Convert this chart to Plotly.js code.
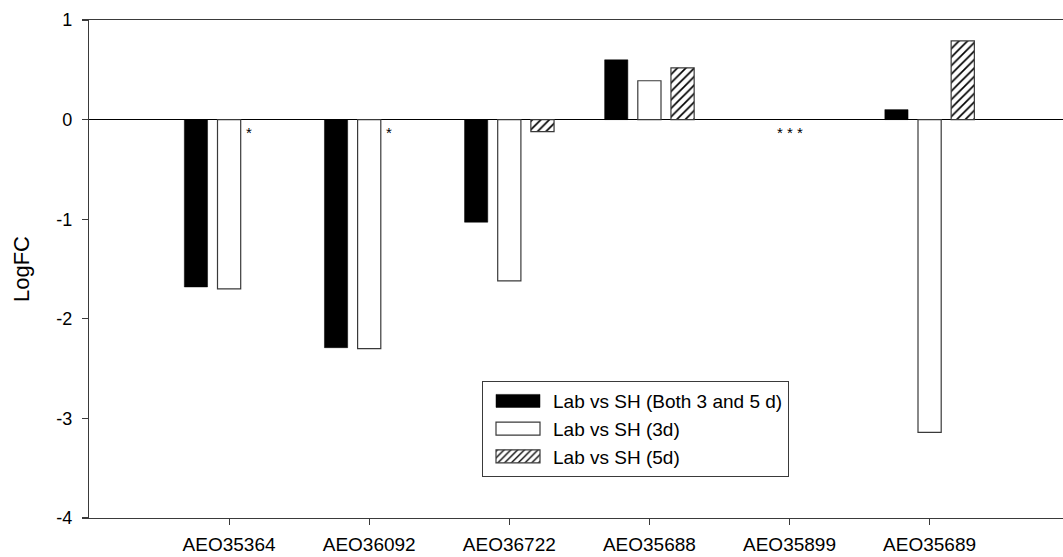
<!DOCTYPE html>
<html>
<head>
<meta charset="utf-8">
<script src="https://cdn.plot.ly/plotly-3.0.1.min.js"></script>
<style>
  html, body { margin: 0; padding: 0; background: #fff; overflow: hidden; }
  #frame { width: 1063px; height: 557px; overflow: hidden; }
  #chart { width: 1100px; height: 557px; }
</style>
</head>
<body>
<div id="frame"><div id="chart"></div></div>
<script>
// Genes on the x axis
const genes = ["AEO35364", "AEO36092", "AEO36722", "AEO35688", "AEO35899", "AEO35689"];

// Log fold change per comparison (null = not present)
const bothDays = [-1.68, -2.29, -1.03, 0.60, null, 0.10];
const day3     = [-1.70, -2.30, -1.62, 0.39, null, -3.14];
const day5     = [null, null, -0.12, 0.52, null, 0.79];

const seriesNames = ["Lab vs SH (Both 3 and 5 d)", "Lab vs SH (3d)", "Lab vs SH (5d)"];

// y axis ticks, written with a plain hyphen
const yTicks      = [-4, -3, -2, -1, 0, 1];
const yTickLabels = ["-4", "-3", "-2", "-1", "0", "1"];

// Significance markers: gene, label, horizontal offset in px
const starGenes  = ["AEO35364", "AEO36092", "AEO35899"];
const starLabels = ["*", "*", "* * *"];
const starShift  = [20, 20, 0];

const edge = "#3a3a3a";
const font = "Arial, 'Liberation Sans', sans-serif";

const traces = [
  {
    type: "bar", name: seriesNames[0], x: genes, y: bothDays,
    marker: { color: "#000000", line: { color: "#000000", width: 0.5 } }
  },
  {
    type: "bar", name: seriesNames[1], x: genes, y: day3,
    marker: { color: "#ffffff", line: { color: edge, width: 1.2 } }
  },
  {
    type: "bar", name: seriesNames[2], x: genes, y: day5,
    marker: {
      color: "#ffffff",
      line: { color: edge, width: 1.2 },
      pattern: { shape: "/", fgcolor: "#000000", bgcolor: "#ffffff", size: 6, solidity: 0.28 }
    }
  }
];

const annotations = starGenes.map((g, i) => ({
  x: g, y: 0, xref: "x", yref: "y",
  text: starLabels[i], showarrow: false,
  xshift: starShift[i], yshift: -13,
  font: { family: font, size: 15, color: "#000" }
}));

// plot area runs past the visible frame on the right
const plotWidth = 1100;
const pxPerCategory = 140.1;
const xMax = -1 + (plotWidth - 89) / pxPerCategory;

const layout = {
  width: plotWidth, height: 557,
  margin: { l: 89, r: 0, t: 20, b: 39 },
  paper_bgcolor: "#fff", plot_bgcolor: "#fff",
  font: { family: font, size: 18, color: "#000" },
  barmode: "group",
  bargap: 0.29,
  bargroupgap: 0.3,
  showlegend: true,
  legend: {
    x: 393 / (plotWidth - 89), y: 0.275, xanchor: "left", yanchor: "top",
    bordercolor: edge, borderwidth: 1, bgcolor: "#fff",
    font: { family: font, size: 19, color: "#000" },
    itemwidth: 60,
    tracegroupgap: 0,
    traceorder: "normal"
  },
  xaxis: {
    type: "category",
    range: [-1, xMax],
    showline: true, linecolor: edge, linewidth: 1.2,
    mirror: true,
    ticks: "outside", ticklen: 6, tickcolor: edge, tickwidth: 1.2,
    ticklabelstandoff: 3,
    showgrid: false, zeroline: false,
    tickfont: { family: font, size: 19, color: "#000" }
  },
  yaxis: {
    range: [-4, 1],
    tickvals: yTicks, ticktext: yTickLabels,
    showline: true, linecolor: edge, linewidth: 1.2,
    ticks: "outside", ticklen: 6, tickcolor: edge, tickwidth: 1.2,
    ticklabelstandoff: 6,
    showgrid: false,
    zeroline: true, zerolinecolor: "#000", zerolinewidth: 1.2,
    tickfont: { family: font, size: 18, color: "#000" },
    title: { text: "LogFC", font: { family: font, size: 22, color: "#000" }, standoff: 20 }
  },
  annotations: annotations
};

Plotly.newPlot("chart", traces, layout, { displayModeBar: false, staticPlot: true }).then(gd => {
  // widen the legend swatches into flat rectangles
  gd.querySelectorAll(".legend .legendpoints path").forEach(p => {
    p.setAttribute("d", "M22,6.5H-22V-6.5H22Z");
  });
});
</script>
</body>
</html>
